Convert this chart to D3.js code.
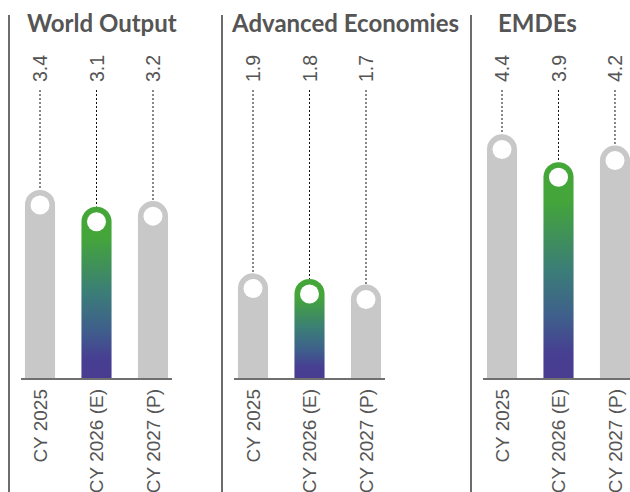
<!DOCTYPE html>
<html>
<head>
<meta charset="utf-8">
<script src="https://cdn.jsdelivr.net/npm/d3@7"></script>
<style>
  html, body { margin: 0; padding: 0; background: #fff; }
  svg { display: block; }
</style>
</head>
<body>
<svg id="chart" width="630" height="492"></svg>
<script>
// Growth projections (%), three groups
const categories = ["CY 2025", "CY 2026 (E)", "CY 2027 (P)"];
const groups = ["World Output", "Advanced Economies", "EMDEs"];
const worldOutput = [3.4, 3.1, 3.2];
const advancedEconomies = [1.9, 1.8, 1.7];
const emdes = [4.4, 3.9, 4.2];
const highlight = "CY 2026 (E)";

const seriesList = [worldOutput, advancedEconomies, emdes];

// Panel geometry: separator x, title x
const panels = [
  { sep: 9,   titleX: 27 },
  { sep: 222, titleX: 232 },
  { sep: 471, titleX: 498 }
];

const svg = d3.select("#chart");
const defs = svg.append("defs");

const grad = defs.append("linearGradient")
  .attr("id", "barGrad")
  .attr("x1", 0).attr("y1", 0).attr("x2", 0).attr("y2", 1);
[
  { o: "0%",   c: "#44a738" },
  { o: "18%",  c: "#44a53a" },
  { o: "50%",  c: "#3b7d78" },
  { o: "72%",  c: "#3f5e8c" },
  { o: "88%",  c: "#473f92" },
  { o: "100%", c: "#483c90" }
].forEach(s => grad.append("stop").attr("offset", s.o).attr("stop-color", s.c));

const baseY = 379;
const y = d3.scaleLinear().domain([0, 5]).range([baseY, 101]);

const labelFont = "'Liberation Sans', Arial, sans-serif";
const titleFont = "Lato, 'Open Sans', sans-serif";

function barPath(x0, w, yTop, yBot) {
  const r = w / 2;
  return `M${x0},${yBot} L${x0},${yTop + r} A${r},${r} 0 0 1 ${x0 + w},${yTop + r} L${x0 + w},${yBot} Z`;
}

panels.forEach((p, i) => {
  const values = seriesList[i];
  const g = svg.append("g");
  const axisStart = p.sep + 12;

  const x = d3.scaleBand()
    .domain(categories)
    .range([axisStart, axisStart + 151])
    .paddingInner(0.467)
    .paddingOuter(0.07);
  const bw = x.bandwidth();

  // separator line
  g.append("line")
    .attr("x1", p.sep).attr("x2", p.sep)
    .attr("y1", 15).attr("y2", 492)
    .attr("stroke", "#2e2e2e").attr("stroke-width", 1.4);

  // title
  g.append("text")
    .attr("x", p.titleX).attr("y", 32)
    .attr("font-family", titleFont)
    .attr("font-weight", 700)
    .attr("font-size", 24)
    .attr("fill", "#555")
    .text(groups[i]);

  const data = categories.map((c, j) => ({ cat: c, v: values[j] }));

  // dotted leaders
  g.selectAll(".lead").data(data).join("line")
    .attr("x1", d => x(d.cat) + bw / 2).attr("x2", d => x(d.cat) + bw / 2)
    .attr("y1", 90).attr("y2", d => y(d.v))
    .attr("stroke", "#111").attr("stroke-width", 1)
    .attr("stroke-dasharray", "2,2");

  // value labels
  g.selectAll(".val").data(data).join("text")
    .attr("transform", d => `translate(${x(d.cat) + bw / 2},82) rotate(-90)`)
    .attr("dy", "0.36em")
    .attr("text-anchor", "start")
    .attr("font-family", labelFont)
    .attr("font-size", 19.5)
    .attr("fill", "#555")
    .text(d => d3.format(".1f")(d.v));

  // bars
  g.selectAll(".bar").data(data).join("path")
    .attr("d", d => barPath(x(d.cat), bw, y(d.v), baseY))
    .attr("fill", d => d.cat === highlight ? "url(#barGrad)" : "#c8c8c8");

  // white markers
  g.selectAll(".dot").data(data).join("circle")
    .attr("cx", d => x(d.cat) + bw / 2)
    .attr("cy", d => y(d.v) + bw / 2)
    .attr("r", 9.5)
    .attr("fill", "#fff");

  // baseline
  g.append("line")
    .attr("x1", axisStart).attr("x2", i === 2 ? 640 : axisStart + 151)
    .attr("y1", baseY).attr("y2", baseY)
    .attr("stroke", "#707070").attr("stroke-width", 2);

  // category labels
  g.selectAll(".cat").data(data).join("text")
    .attr("transform", d => `translate(${x(d.cat) + bw / 2},389) rotate(-90)`)
    .attr("dy", "0.36em")
    .attr("text-anchor", "end")
    .attr("font-family", labelFont)
    .attr("font-size", 19)
    .attr("fill", "#555")
    .text(d => d.cat);
});
</script>
</body>
</html>
